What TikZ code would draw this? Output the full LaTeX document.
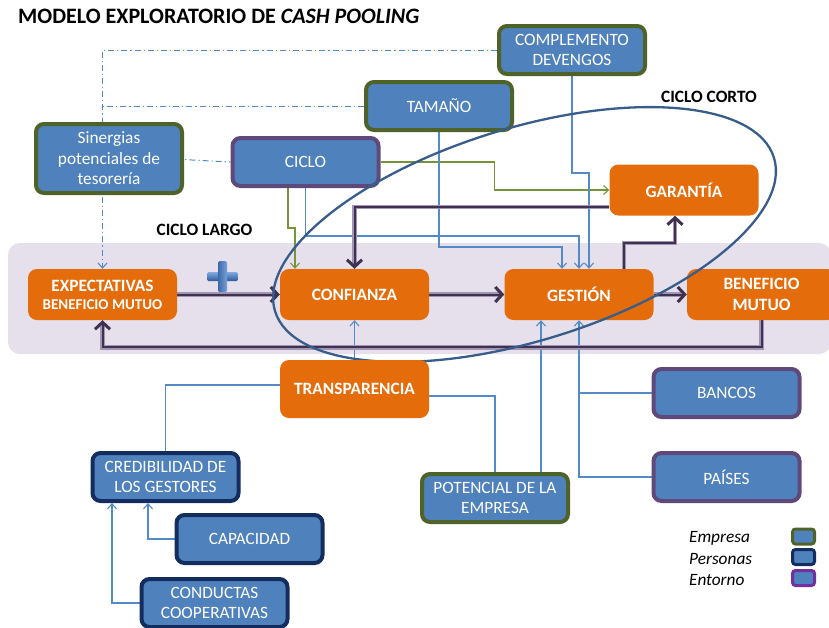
\documentclass[tikz,border=0pt]{standalone}
\usepackage{fontspec}
\setmainfont{Carlito}
\usetikzlibrary{arrows.meta}

\pgfdeclarelayer{band}
\pgfdeclarelayer{links}
\pgfdeclarelayer{loop}
\pgfdeclarelayer{front}
\pgfsetlayers{band,links,main,loop,front}

\definecolor{boxblue}{RGB}{79,129,189}
\definecolor{empgreen}{RGB}{79,98,40}
\definecolor{pernavy}{RGB}{20,45,95}
\definecolor{entpurple}{RGB}{95,73,122}
\definecolor{legpurple}{RGB}{112,48,160}
\definecolor{orangefill}{RGB}{228,108,10}
\definecolor{bandlilac}{RGB}{229,224,236}
\definecolor{linkblue}{RGB}{85,138,200}
\definecolor{linkgreen}{RGB}{119,147,60}
\definecolor{flowdark}{RGB}{64,49,82}
\definecolor{flowhalo}{RGB}{160,150,178}
\definecolor{loopblue}{RGB}{56,93,138}

\tikzset{
  boxtext/.style={text=white, align=center, inner sep=0pt,
    font=\fontsize{17.3pt}{20.5pt}\selectfont},
  bluebox/.style={boxtext, rounded corners=8pt, fill=boxblue, line width=4pt,
    minimum width=146pt, minimum height=48pt},
  empresa/.style={bluebox, draw=empgreen},
  persona/.style={bluebox, draw=pernavy},
  entorno/.style={bluebox, draw=entpurple},
  orangebox/.style={boxtext, rounded corners=9pt, fill=orangefill,
    font=\bfseries\fontsize{17.3pt}{21pt}\selectfont,
    minimum width=149pt, minimum height=51pt},
  lbl/.style={inner sep=0pt, font=\bfseries\fontsize{17.3pt}{20pt}\selectfont},
  legtext/.style={anchor=west, inner sep=0pt, font=\itshape\fontsize{17.3pt}{20pt}\selectfont},
  swatch/.style={rounded corners=3pt, fill=boxblue, line width=3pt,
    minimum width=22pt, minimum height=15pt, inner sep=0pt},
  tipthin/.style={-{Straight Barb[length=5pt,width=9pt,line width=1.1pt]}},
  bluelink/.style={draw=linkblue, line width=1.1pt},
  greenlink/.style={draw=linkgreen, line width=1.1pt},
  dashlink/.style={draw=linkblue, line width=1pt,
    dash pattern=on 6pt off 3pt on 1.2pt off 3pt},
  flow/.style={draw=flowdark, line width=2pt,
    preaction={draw=flowhalo, line width=4.6pt, -, shorten >=4pt},
    -{Straight Barb[length=7pt,width=15pt,line width=3pt]}},
}

\begin{document}
\begin{tikzpicture}[x=1pt,y=-1pt]
\useasboundingbox (0,0) rectangle (829,627);

% title
\node[anchor=west, inner sep=0pt, font=\bfseries\fontsize{22pt}{26pt}\selectfont]
  (title) at (18,16) {MODELO EXPLORATORIO DE \textit{CASH POOLING}};

% long-cycle band
\begin{pgfonlayer}{band}
  \fill[bandlilac, rounded corners=12pt] (8,243) rectangle (831,354);
\end{pgfonlayer}

% factor boxes
\node[empresa] (comp) at (572,50) {COMPLEMENTO\\DEVENGOS};
\node[empresa] (tam) at (439,106) {TAMAÑO};
\node[empresa, minimum height=69pt] (sin) at (109,158.5)
  {Sinergias\\potenciales de\\tesorería};
\node[entorno] (ciclo) at (305.5,162) {CICLO};
\node[orangebox] (gar) at (684,190) {GARANTÍA};

\node[orangebox] (exp) at (102.5,294.5)
  {EXPECTATIVAS\\[-3pt]{\fontsize{15pt}{17pt}\selectfont BENEFICIO MUTUO}};
\node[orangebox] (conf) at (354.5,294.5) {CONFIANZA};
\node[orangebox] (gest) at (579,294.5) {GESTIÓN};
\node[orangebox] (ben) at (761.5,294.5) {BENEFICIO\\MUTUO};

\node[entorno] (bancos) at (726.5,393) {BANCOS};
\node[entorno] (paises) at (726.5,477) {PAÍSES};
\node[empresa] (pot) at (495,498) {POTENCIAL DE LA\\EMPRESA};
\node[persona] (cred) at (165.5,477) {CREDIBILIDAD DE\\LOS GESTORES};
\node[persona] (cap) at (249.5,539) {CAPACIDAD};
\node[persona] (cond) at (214.5,603) {CONDUCTAS\\COOPERATIVAS};

\begin{pgfonlayer}{front}
  \node[orangebox, minimum height=58pt] (trans) at (354.5,389) {TRANSPARENCIA};
\end{pgfonlayer}

% cycle labels
\node[lbl] (largo) at (204.5,230) {CICLO LARGO};
\node[lbl] (corto) at (709,97) {CICLO CORTO};

% plus sign between expectations and trust
\shade[top color={rgb,255:red,130;green,170;blue,222}, bottom color={rgb,255:red,45;green,90;blue,155},
  rounded corners=1.5pt] (207,272) rectangle (238,281);
\shade[left color={rgb,255:red,60;green,105;blue,170}, right color={rgb,255:red,120;green,162;blue,215},
  rounded corners=1.5pt] (218,261) rectangle (227,292);

% connectors
\begin{pgfonlayer}{links}
  % dash-dot feeds into expectations
  \draw[dashlink, tipthin] (comp.west) -| (exp.north);
  \draw[dashlink] (tam.west) -- ++(-262,0);
  \draw[dashlink] ([xshift=-21pt]sin.east) -- (ciclo.west);

  % green links from CICLO
  \draw[greenlink, tipthin] (ciclo.east) -- ++(114,0) |- (gar.west);
  \draw[greenlink, tipthin] ([xshift=-17.5pt]ciclo.south) -- ++(0,40)
    -| ([xshift=-59.5pt]conf.north);

  % blue links into GESTIÓN
  \draw[bluelink, tipthin] (ciclo.south) -- ++(0,48) -| (gest.north);
  \draw[bluelink, tipthin] (tam.south) -- ++(0,115) -| ([xshift=-17pt]gest.north);
  \draw[bluelink, tipthin] (comp.south) -- ++(0,97) -| ([xshift=10pt]gest.north);

  \coordinate (potup) at ([xshift=46pt]pot.north);
  \draw[bluelink, tipthin] (potup) -- (potup |- gest.south);
  \draw[bluelink, tipthin] (paises.west) -| (gest.south);
  \draw[bluelink] (bancos.west) -- (bancos.west -| gest.south);

  % transparency links
  \draw[bluelink, tipthin] (trans.north) -- (conf.south);
  \draw[bluelink] ([yshift=4pt]trans.west) -| (cred.north);
  \draw[bluelink] ([yshift=-7pt]trans.east) -| (pot.north);

  % credibility inputs
  \draw[bluelink, tipthin] (cap.west) -| ([xshift=-17.5pt]cred.south);
  \draw[bluelink, tipthin] (cond.west) -| ([xshift=-53.5pt]cred.south);

  % main flow
  \draw[flow] (exp.east) -- (conf.west);
  \draw[flow] (conf.east) -- (gest.west);
  \draw[flow] (gest.east) -- (ben.west);
  \draw[flow] (ben.south) -- ++(0,27) -| (exp.south);
  \draw[flow] ([xshift=45pt]gest.north) -- ++(0,-26) -| ([xshift=-9pt]gar.south);
  \draw[flow] ([yshift=-17pt]gar.west) -| (conf.north);
\end{pgfonlayer}

% short cycle loop
\begin{pgfonlayer}{loop}
  \draw[loopblue, line width=2.3pt, rotate around={17.1:(524.5,234.5)}]
    (524.5,234.5) ellipse [x radius=261, y radius=106.4];
\end{pgfonlayer}

% legend
\node[legtext] (lemp) at (689,538) {Empresa};
\node[legtext] (lper) at (689,559) {Personas};
\node[legtext] (lent) at (689,580) {Entorno};
\node[swatch, draw=empgreen] (semp) at (803.5,536.5) {};
\node[swatch, draw=pernavy] (sper) at (803.5,557) {};
\node[swatch, draw=legpurple] (sent) at (803.5,578) {};
\end{tikzpicture}
\end{document}
